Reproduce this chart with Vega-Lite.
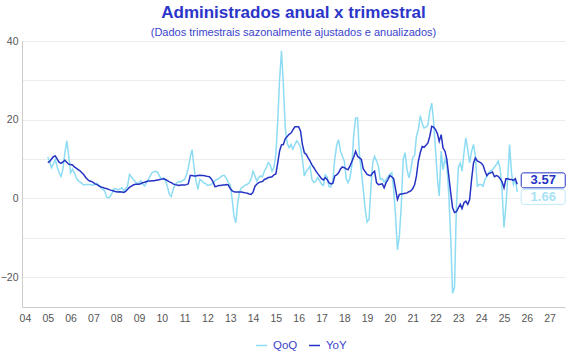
{
"$schema": "https://vega.github.io/schema/vega-lite/v6.json",
"width": 543, "height": 266,
"autosize": {"type": "none"},
"padding": {"left": 22, "top": 41, "right": 5, "bottom": 53},
"background": "white",
"title": {"text": "Administrados anual x trimestral", "subtitle": "(Dados trimestrais sazonalmente ajustados e anualizados)", "anchor": "middle", "color": "#2b35c9", "fontSize": 17, "fontWeight": "bold", "font": "Liberation Sans", "subtitleColor": "#3a44cc", "subtitleFontSize": 11, "subtitleFont": "Liberation Sans", "subtitlePadding": 5, "offset": -3},
"config": {"view": {"stroke": null}},
"data": {"format": {"parse": {"d": "utc:'%Y-%m-%d'"}}, "values": [
{"d":"2005-01-01","QoQ":10.6,"YoY":9.1},{"d":"2005-02-01","QoQ":9.2,"YoY":9.4},{"d":"2005-03-01","QoQ":7.8,"YoY":10.0},{"d":"2005-04-01","QoQ":8.8,"YoY":10.6},{"d":"2005-05-01","QoQ":9.9,"YoY":10.8},{"d":"2005-06-01","QoQ":8.0,"YoY":10.0},{"d":"2005-07-01","QoQ":6.5,"YoY":9.2},{"d":"2005-08-01","QoQ":5.6,"YoY":8.9},{"d":"2005-09-01","QoQ":7.5,"YoY":9.3},{"d":"2005-10-01","QoQ":11.5,"YoY":9.7},{"d":"2005-11-01","QoQ":14.6,"YoY":9.2},{"d":"2005-12-01","QoQ":11.0,"YoY":8.7},
{"d":"2006-01-01","QoQ":6.5,"YoY":8.6},{"d":"2006-02-01","QoQ":7.4,"YoY":8.5},{"d":"2006-03-01","QoQ":6.5,"YoY":8.0},{"d":"2006-04-01","QoQ":5.3,"YoY":7.7},{"d":"2006-05-01","QoQ":4.5,"YoY":7.3},{"d":"2006-06-01","QoQ":4.2,"YoY":7.0},{"d":"2006-07-01","QoQ":3.8,"YoY":6.5},{"d":"2006-08-01","QoQ":3.4,"YoY":6.0},{"d":"2006-09-01","QoQ":3.5,"YoY":5.3},{"d":"2006-10-01","QoQ":3.5,"YoY":4.8},{"d":"2006-11-01","QoQ":3.5,"YoY":4.4},{"d":"2006-12-01","QoQ":3.4,"YoY":4.3},
{"d":"2007-01-01","QoQ":3.4,"YoY":4.0},{"d":"2007-02-01","QoQ":3.6,"YoY":3.7},{"d":"2007-03-01","QoQ":3.8,"YoY":3.5},{"d":"2007-04-01","QoQ":3.3,"YoY":3.2},{"d":"2007-05-01","QoQ":2.7,"YoY":2.9},{"d":"2007-06-01","QoQ":2.3,"YoY":2.8},{"d":"2007-07-01","QoQ":1.9,"YoY":2.6},{"d":"2007-08-01","QoQ":0.3,"YoY":2.5},{"d":"2007-09-01","QoQ":0.2,"YoY":2.3},{"d":"2007-10-01","QoQ":0.6,"YoY":2.1},{"d":"2007-11-01","QoQ":1.5,"YoY":2.0},{"d":"2007-12-01","QoQ":2.5,"YoY":1.8},
{"d":"2008-01-01","QoQ":2.4,"YoY":1.7},{"d":"2008-02-01","QoQ":2.1,"YoY":1.6},{"d":"2008-03-01","QoQ":2.4,"YoY":1.7},{"d":"2008-04-01","QoQ":2.7,"YoY":1.6},{"d":"2008-05-01","QoQ":1.9,"YoY":1.5},{"d":"2008-06-01","QoQ":2.5,"YoY":1.8},{"d":"2008-07-01","QoQ":3.1,"YoY":2.3},{"d":"2008-08-01","QoQ":6.1,"YoY":2.8},{"d":"2008-09-01","QoQ":5.5,"YoY":3.1},{"d":"2008-10-01","QoQ":4.8,"YoY":3.4},{"d":"2008-11-01","QoQ":4.3,"YoY":3.6},{"d":"2008-12-01","QoQ":3.8,"YoY":3.6},
{"d":"2009-01-01","QoQ":4.0,"YoY":3.6},{"d":"2009-02-01","QoQ":4.5,"YoY":3.8},{"d":"2009-03-01","QoQ":3.6,"YoY":4.0},{"d":"2009-04-01","QoQ":3.2,"YoY":4.1},{"d":"2009-05-01","QoQ":4.0,"YoY":4.3},{"d":"2009-06-01","QoQ":4.8,"YoY":4.4},{"d":"2009-07-01","QoQ":5.8,"YoY":4.4},{"d":"2009-08-01","QoQ":6.6,"YoY":4.5},{"d":"2009-09-01","QoQ":6.8,"YoY":4.5},{"d":"2009-10-01","QoQ":6.9,"YoY":4.6},{"d":"2009-11-01","QoQ":6.5,"YoY":4.7},{"d":"2009-12-01","QoQ":5.5,"YoY":4.8},
{"d":"2010-01-01","QoQ":5.0,"YoY":4.9},{"d":"2010-02-01","QoQ":5.2,"YoY":5.0},{"d":"2010-03-01","QoQ":4.5,"YoY":4.8},{"d":"2010-04-01","QoQ":3.0,"YoY":4.5},{"d":"2010-05-01","QoQ":1.0,"YoY":4.2},{"d":"2010-06-01","QoQ":0.5,"YoY":4.0},{"d":"2010-07-01","QoQ":2.3,"YoY":3.7},{"d":"2010-08-01","QoQ":3.5,"YoY":3.5},{"d":"2010-09-01","QoQ":4.0,"YoY":3.4},{"d":"2010-10-01","QoQ":4.3,"YoY":3.3},{"d":"2010-11-01","QoQ":4.2,"YoY":3.4},{"d":"2010-12-01","QoQ":4.5,"YoY":3.4},
{"d":"2011-01-01","QoQ":4.8,"YoY":3.4},{"d":"2011-02-01","QoQ":6.0,"YoY":3.5},{"d":"2011-03-01","QoQ":7.8,"YoY":3.7},{"d":"2011-04-01","QoQ":10.5,"YoY":5.8},{"d":"2011-05-01","QoQ":12.4,"YoY":5.8},{"d":"2011-06-01","QoQ":7.8,"YoY":5.7},{"d":"2011-07-01","QoQ":4.5,"YoY":5.7},{"d":"2011-08-01","QoQ":2.3,"YoY":5.8},{"d":"2011-09-01","QoQ":4.8,"YoY":5.9},{"d":"2011-10-01","QoQ":4.5,"YoY":5.8},{"d":"2011-11-01","QoQ":4.0,"YoY":5.8},{"d":"2011-12-01","QoQ":3.8,"YoY":5.7},
{"d":"2012-01-01","QoQ":3.3,"YoY":5.6},{"d":"2012-02-01","QoQ":3.4,"YoY":5.5},{"d":"2012-03-01","QoQ":3.5,"YoY":5.0},{"d":"2012-04-01","QoQ":4.0,"YoY":4.2},{"d":"2012-05-01","QoQ":4.5,"YoY":3.0},{"d":"2012-06-01","QoQ":4.8,"YoY":3.1},{"d":"2012-07-01","QoQ":5.0,"YoY":3.3},{"d":"2012-08-01","QoQ":5.5,"YoY":3.3},{"d":"2012-09-01","QoQ":5.8,"YoY":3.4},{"d":"2012-10-01","QoQ":5.8,"YoY":3.4},{"d":"2012-11-01","QoQ":5.0,"YoY":3.5},{"d":"2012-12-01","QoQ":4.0,"YoY":3.4},
{"d":"2013-01-01","QoQ":3.5,"YoY":2.5},{"d":"2013-02-01","QoQ":-0.3,"YoY":1.9},{"d":"2013-03-01","QoQ":-4.5,"YoY":1.7},{"d":"2013-04-01","QoQ":-6.2,"YoY":1.6},{"d":"2013-05-01","QoQ":-1.0,"YoY":1.6},{"d":"2013-06-01","QoQ":1.8,"YoY":1.6},{"d":"2013-07-01","QoQ":2.7,"YoY":1.6},{"d":"2013-08-01","QoQ":3.0,"YoY":1.5},{"d":"2013-09-01","QoQ":3.4,"YoY":1.4},{"d":"2013-10-01","QoQ":3.6,"YoY":1.3},{"d":"2013-11-01","QoQ":4.0,"YoY":1.1},{"d":"2013-12-01","QoQ":5.0,"YoY":1.0},
{"d":"2014-01-01","QoQ":6.9,"YoY":1.6},{"d":"2014-02-01","QoQ":5.7,"YoY":3.1},{"d":"2014-03-01","QoQ":4.4,"YoY":3.6},{"d":"2014-04-01","QoQ":5.3,"YoY":4.0},{"d":"2014-05-01","QoQ":5.7,"YoY":4.2},{"d":"2014-06-01","QoQ":5.5,"YoY":4.3},{"d":"2014-07-01","QoQ":6.9,"YoY":4.8},{"d":"2014-08-01","QoQ":7.8,"YoY":5.0},{"d":"2014-09-01","QoQ":9.1,"YoY":5.3},{"d":"2014-10-01","QoQ":8.6,"YoY":5.4},{"d":"2014-11-01","QoQ":6.9,"YoY":5.5},{"d":"2014-12-01","QoQ":7.8,"YoY":6.0},
{"d":"2015-01-01","QoQ":11.2,"YoY":6.2},{"d":"2015-02-01","QoQ":20.0,"YoY":9.1},{"d":"2015-03-01","QoQ":30.0,"YoY":12.0},{"d":"2015-04-01","QoQ":37.5,"YoY":13.6},{"d":"2015-05-01","QoQ":29.0,"YoY":13.7},{"d":"2015-06-01","QoQ":18.0,"YoY":15.2},{"d":"2015-07-01","QoQ":14.0,"YoY":15.7},{"d":"2015-08-01","QoQ":12.9,"YoY":16.3},{"d":"2015-09-01","QoQ":13.7,"YoY":16.6},{"d":"2015-10-01","QoQ":12.5,"YoY":17.4},{"d":"2015-11-01","QoQ":13.7,"YoY":18.2},{"d":"2015-12-01","QoQ":14.6,"YoY":18.2},
{"d":"2016-01-01","QoQ":14.0,"YoY":18.2},{"d":"2016-02-01","QoQ":12.9,"YoY":17.1},{"d":"2016-03-01","QoQ":9.9,"YoY":13.7},{"d":"2016-04-01","QoQ":5.7,"YoY":11.6},{"d":"2016-05-01","QoQ":6.9,"YoY":11.2},{"d":"2016-06-01","QoQ":7.5,"YoY":10.3},{"d":"2016-07-01","QoQ":8.2,"YoY":9.5},{"d":"2016-08-01","QoQ":4.8,"YoY":8.5},{"d":"2016-09-01","QoQ":4.0,"YoY":7.8},{"d":"2016-10-01","QoQ":4.4,"YoY":7.0},{"d":"2016-11-01","QoQ":5.3,"YoY":6.3},{"d":"2016-12-01","QoQ":4.5,"YoY":5.7},
{"d":"2017-01-01","QoQ":3.6,"YoY":5.0},{"d":"2017-02-01","QoQ":3.3,"YoY":4.7},{"d":"2017-03-01","QoQ":6.0,"YoY":5.3},{"d":"2017-04-01","QoQ":5.5,"YoY":4.8},{"d":"2017-05-01","QoQ":3.0,"YoY":4.0},{"d":"2017-06-01","QoQ":2.9,"YoY":3.7},{"d":"2017-07-01","QoQ":4.5,"YoY":3.8},{"d":"2017-08-01","QoQ":10.0,"YoY":5.7},{"d":"2017-09-01","QoQ":13.5,"YoY":6.0},{"d":"2017-10-01","QoQ":14.9,"YoY":6.5},{"d":"2017-11-01","QoQ":12.0,"YoY":7.5},{"d":"2017-12-01","QoQ":10.7,"YoY":8.0},
{"d":"2018-01-01","QoQ":9.5,"YoY":7.8},{"d":"2018-02-01","QoQ":5.0,"YoY":7.5},{"d":"2018-03-01","QoQ":4.0,"YoY":7.3},{"d":"2018-04-01","QoQ":5.2,"YoY":8.2},{"d":"2018-05-01","QoQ":8.2,"YoY":9.3},{"d":"2018-06-01","QoQ":16.2,"YoY":10.5},{"d":"2018-07-01","QoQ":20.4,"YoY":12.0},{"d":"2018-08-01","QoQ":20.4,"YoY":10.7},{"d":"2018-09-01","QoQ":11.0,"YoY":10.3},{"d":"2018-10-01","QoQ":7.0,"YoY":9.9},{"d":"2018-11-01","QoQ":2.3,"YoY":7.5},{"d":"2018-12-01","QoQ":-2.8,"YoY":6.8},
{"d":"2019-01-01","QoQ":-6.0,"YoY":6.1},{"d":"2019-02-01","QoQ":-5.3,"YoY":5.9},{"d":"2019-03-01","QoQ":2.3,"YoY":5.8},{"d":"2019-04-01","QoQ":9.0,"YoY":6.5},{"d":"2019-05-01","QoQ":10.7,"YoY":6.9},{"d":"2019-06-01","QoQ":9.5,"YoY":4.0},{"d":"2019-07-01","QoQ":8.2,"YoY":3.5},{"d":"2019-08-01","QoQ":4.8,"YoY":3.6},{"d":"2019-09-01","QoQ":5.0,"YoY":3.7},{"d":"2019-10-01","QoQ":4.1,"YoY":2.7},{"d":"2019-11-01","QoQ":4.8,"YoY":4.0},{"d":"2019-12-01","QoQ":5.5,"YoY":4.8},
{"d":"2020-01-01","QoQ":6.1,"YoY":5.8},{"d":"2020-02-01","QoQ":6.5,"YoY":5.5},{"d":"2020-03-01","QoQ":2.3,"YoY":5.0},{"d":"2020-04-01","QoQ":-4.5,"YoY":2.3},{"d":"2020-05-01","QoQ":-13.1,"YoY":-0.3},{"d":"2020-06-01","QoQ":-9.5,"YoY":1.0},{"d":"2020-07-01","QoQ":-1.9,"YoY":1.1},{"d":"2020-08-01","QoQ":9.9,"YoY":1.2},{"d":"2020-09-01","QoQ":11.6,"YoY":1.3},{"d":"2020-10-01","QoQ":7.3,"YoY":1.4},{"d":"2020-11-01","QoQ":5.2,"YoY":1.7},{"d":"2020-12-01","QoQ":7.3,"YoY":1.9},
{"d":"2021-01-01","QoQ":10.3,"YoY":2.5},{"d":"2021-02-01","QoQ":11.0,"YoY":3.5},{"d":"2021-03-01","QoQ":15.8,"YoY":5.7},{"d":"2021-04-01","QoQ":17.5,"YoY":9.5},{"d":"2021-05-01","QoQ":21.0,"YoY":11.6},{"d":"2021-06-01","QoQ":19.0,"YoY":13.2},{"d":"2021-07-01","QoQ":17.9,"YoY":13.0},{"d":"2021-08-01","QoQ":18.1,"YoY":13.5},{"d":"2021-09-01","QoQ":18.7,"YoY":14.1},{"d":"2021-10-01","QoQ":22.1,"YoY":15.8},{"d":"2021-11-01","QoQ":24.2,"YoY":18.3},{"d":"2021-12-01","QoQ":19.6,"YoY":18.1},
{"d":"2022-01-01","QoQ":12.4,"YoY":17.5},{"d":"2022-02-01","QoQ":4.8,"YoY":16.4},{"d":"2022-03-01","QoQ":0.6,"YoY":14.5},{"d":"2022-04-01","QoQ":12.0,"YoY":16.2},{"d":"2022-05-01","QoQ":7.3,"YoY":12.8},{"d":"2022-06-01","QoQ":9.9,"YoY":12.0},{"d":"2022-07-01","QoQ":8.6,"YoY":9.9},{"d":"2022-08-01","QoQ":1.0,"YoY":5.7},{"d":"2022-09-01","QoQ":-10.0,"YoY":1.4},{"d":"2022-10-01","QoQ":-24.1,"YoY":-2.4},{"d":"2022-11-01","QoQ":-22.6,"YoY":-3.6},{"d":"2022-12-01","QoQ":-2.0,"YoY":-3.4},
{"d":"2023-01-01","QoQ":7.8,"YoY":-2.4},{"d":"2023-02-01","QoQ":9.0,"YoY":-1.5},{"d":"2023-03-01","QoQ":6.9,"YoY":-2.6},{"d":"2023-04-01","QoQ":11.6,"YoY":-1.1},{"d":"2023-05-01","QoQ":15.4,"YoY":-0.7},{"d":"2023-06-01","QoQ":12.4,"YoY":-1.5},{"d":"2023-07-01","QoQ":9.0,"YoY":-0.3},{"d":"2023-08-01","QoQ":12.0,"YoY":4.8},{"d":"2023-09-01","QoQ":13.7,"YoY":9.0},{"d":"2023-10-01","QoQ":10.7,"YoY":10.3},{"d":"2023-11-01","QoQ":3.1,"YoY":9.5},{"d":"2023-12-01","QoQ":3.5,"YoY":9.3},
{"d":"2024-01-01","QoQ":3.5,"YoY":9.0},{"d":"2024-02-01","QoQ":3.1,"YoY":8.4},{"d":"2024-03-01","QoQ":4.8,"YoY":7.0},{"d":"2024-04-01","QoQ":5.5,"YoY":5.8},{"d":"2024-05-01","QoQ":6.5,"YoY":6.3},{"d":"2024-06-01","QoQ":7.0,"YoY":6.5},{"d":"2024-07-01","QoQ":7.3,"YoY":6.7},{"d":"2024-08-01","QoQ":8.0,"YoY":5.5},{"d":"2024-09-01","QoQ":8.6,"YoY":5.8},{"d":"2024-10-01","QoQ":9.5,"YoY":5.6},{"d":"2024-11-01","QoQ":7.5,"YoY":5.0},{"d":"2024-12-01","QoQ":2.0,"YoY":4.2},
{"d":"2025-01-01","QoQ":-7.4,"YoY":2.7},{"d":"2025-02-01","QoQ":-1.9,"YoY":5.0},{"d":"2025-03-01","QoQ":4.8,"YoY":5.0},{"d":"2025-04-01","QoQ":13.7,"YoY":4.8},{"d":"2025-05-01","QoQ":6.5,"YoY":4.8},{"d":"2025-06-01","QoQ":3.5,"YoY":4.6},{"d":"2025-07-01","QoQ":4.8,"YoY":5.0},{"d":"2025-08-01","QoQ":1.66,"YoY":3.57}
]},
"transform": [{"fold": ["QoQ", "YoY"], "as": ["series", "value"]}],
"encoding": {
  "x": {"field": "d", "type": "temporal", "title": null,
    "scale": {"type": "utc", "domain": [{"year": 2003, "month": 11, "date": 15, "utc": true}, {"year": 2027, "month": 9, "date": 5, "utc": true}]},
    "axis": {"labelExpr": "utcFormat(datum.value, '%y')", "values": [{"year":2004,"utc":true},{"year":2005,"utc":true},{"year":2006,"utc":true},{"year":2007,"utc":true},{"year":2008,"utc":true},{"year":2009,"utc":true},{"year":2010,"utc":true},{"year":2011,"utc":true},{"year":2012,"utc":true},{"year":2013,"utc":true},{"year":2014,"utc":true},{"year":2015,"utc":true},{"year":2016,"utc":true},{"year":2017,"utc":true},{"year":2018,"utc":true},{"year":2019,"utc":true},{"year":2020,"utc":true},{"year":2021,"utc":true},{"year":2022,"utc":true},{"year":2023,"utc":true},{"year":2024,"utc":true},{"year":2025,"utc":true},{"year":2026,"utc":true},{"year":2027,"utc":true}],
      "grid": false, "ticks": false, "domainColor": "#cccccc", "labelColor": "#555555", "labelFontSize": 10.5, "labelFont": "Liberation Sans", "labelPadding": 6, "labelFlush": false, "labelOverlap": false}},
  "y": {"field": "value", "type": "quantitative", "title": null,
    "scale": {"domain": [-27.6, 40], "nice": false, "zero": false},
    "axis": {"values": [-20, -10, 0, 10, 20, 30, 40], "labelExpr": "datum.value % 20 == 0 ? datum.label : ''", "grid": true, "gridColor": "#ececec", "ticks": false, "domainColor": "#cccccc", "labelColor": "#555555", "labelFontSize": 10.5, "labelFont": "Liberation Sans", "labelPadding": 4}}
},
"layer": [
  {"mark": {"type": "line", "strokeWidth": 1.5},
   "encoding": {"color": {"field": "series", "type": "nominal",
     "scale": {"domain": ["QoQ", "YoY"], "range": ["#8edcf3", "#2433c4"]},
     "legend": {"orient": "none", "legendX": 233, "legendY": 298, "direction": "horizontal", "title": null, "symbolType": "stroke", "symbolSize": 120, "symbolStrokeWidth": 1.5, "labelColor": "#3a44cc", "labelFontSize": 11.5, "labelFont": "Liberation Sans", "columnPadding": 8, "labelOffset": 5}}}},
  {"transform": [{"filter": "datum.series == 'YoY' && time(datum.d) == utc(2025, 7, 1)"}],
   "mark": {"type": "point", "shape": "M-0.9,-0.34 H0.9 A0.1,0.1 0 0 1 1,-0.24 V0.24 A0.1,0.1 0 0 1 0.9,0.34 H-0.9 A0.1,0.1 0 0 1 -1,0.24 V-0.24 A0.1,0.1 0 0 1 -0.9,-0.34 Z", "size": 1936, "filled": true, "fill": "white", "stroke": "#2433c4", "strokeWidth": 1, "opacity": 1, "xOffset": 26, "yOffset": -4}},
  {"transform": [{"filter": "datum.series == 'YoY' && time(datum.d) == utc(2025, 7, 1)"}],
   "mark": {"type": "text", "font": "Liberation Sans", "fontSize": 13, "fontWeight": "bold", "color": "#2433c4", "xOffset": 26, "yOffset": -4, "baseline": "middle", "align": "center"},
   "encoding": {"text": {"field": "value", "type": "quantitative", "format": ".2f"}}},
  {"transform": [{"filter": "datum.series == 'QoQ' && time(datum.d) == utc(2025, 7, 1)"}],
   "mark": {"type": "point", "shape": "M-0.9,-0.34 H0.9 A0.1,0.1 0 0 1 1,-0.24 V0.24 A0.1,0.1 0 0 1 0.9,0.34 H-0.9 A0.1,0.1 0 0 1 -1,0.24 V-0.24 A0.1,0.1 0 0 1 -0.9,-0.34 Z", "size": 1936, "filled": true, "fill": "white", "stroke": "#bfeaf7", "strokeWidth": 1, "opacity": 1, "xOffset": 26, "yOffset": 5}},
  {"transform": [{"filter": "datum.series == 'QoQ' && time(datum.d) == utc(2025, 7, 1)"}],
   "mark": {"type": "text", "font": "Liberation Sans", "fontSize": 13, "fontWeight": "bold", "color": "#a8e3f5", "xOffset": 26, "yOffset": 5, "baseline": "middle", "align": "center"},
   "encoding": {"text": {"field": "value", "type": "quantitative", "format": ".2f"}}}
]
}
